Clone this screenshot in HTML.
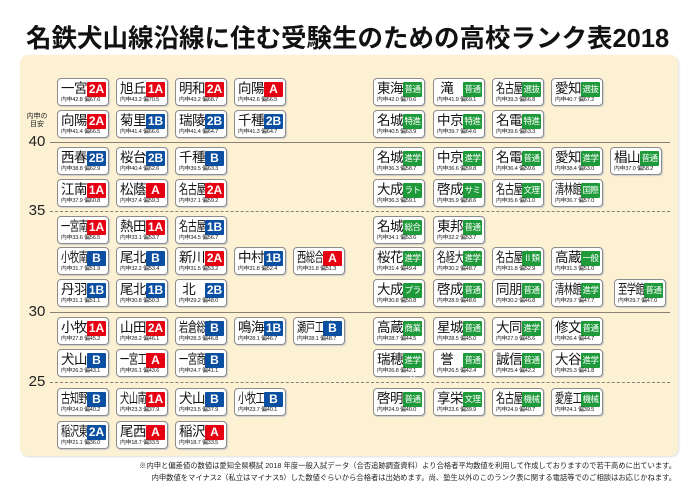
<!DOCTYPE html>
<html><head><meta charset="utf-8"><style>
*{margin:0;padding:0;box-sizing:border-box}
body{width:700px;height:494px;background:#fff;position:relative;overflow:hidden;font-family:"Liberation Sans","Noto Sans CJK JP",sans-serif}
.t{position:absolute;left:26px;top:18px;width:650px;font-size:25.5px;font-weight:bold;letter-spacing:0;white-space:nowrap;color:#111}
.p{position:absolute;left:20px;top:55px;width:658px;height:401px;background:#fdf1d4;border-radius:8px;box-shadow:1px 1px 2px #ddd}
.l{position:absolute;left:50px;width:620px;height:0;border-top:1px solid #8a8175}
.d{border-top:1px dashed #8a8175}
.y{position:absolute;left:24px;font-size:15px;color:#222;width:26px;text-align:center;line-height:15px}
.c{position:absolute;width:52px;height:28px;background:#fff;border:1px solid #8c8c8c;border-radius:4px;box-shadow:1px 1px 1px #ccc}
.n{position:absolute;left:3px;top:2px;font-size:13.5px;line-height:16px;color:#111;white-space:nowrap;letter-spacing:-0.5px}
.n3{transform:scaleX(0.68);transform-origin:0 0;letter-spacing:-0.5px}
.b{position:absolute;right:2px;top:3px;width:19px;height:15px;color:#fff;font-size:12px;font-weight:bold;text-align:center;line-height:15px;border-radius:1px}
.r{background:#e60012}.u{background:#0b4fa3}.g{background:#1f9a3b;font-size:8.5px;letter-spacing:-0.5px;font-weight:normal}
.s{position:absolute;left:3px;bottom:1px;font-size:5.8px;line-height:7px;color:#222;white-space:nowrap;letter-spacing:-0.2px}
.f{position:absolute;right:24px;font-size:7.3px;color:#222;white-space:nowrap}
</style></head><body>
<div class="t">名鉄犬山線沿線に住む受験生のための高校ランク表2018</div>
<div class="p"></div>
<div class="l" style="top:142px"></div>
<div class="l d" style="top:211px"></div>
<div class="l" style="top:312px"></div>
<div class="l d" style="top:382px"></div>
<div class="y" style="top:113px;font-size:7px;line-height:8px">内申の<br>目安</div>
<div class="y" style="top:134px">40</div>
<div class="y" style="top:203px">35</div>
<div class="y" style="top:304px">30</div>
<div class="y" style="top:374px">25</div>

<!-- left -->
<div class="c" style="left:57px;top:78px"><div class="n">一宮</div><div class="b r">2A</div><div class="s">内申42.8 偏67.6</div></div>
<div class="c" style="left:116px;top:78px"><div class="n">旭丘</div><div class="b r">1A</div><div class="s">内申43.2 偏70.5</div></div>
<div class="c" style="left:175px;top:78px"><div class="n">明和</div><div class="b r">2A</div><div class="s">内申43.2 偏68.7</div></div>
<div class="c" style="left:234px;top:78px"><div class="n">向陽</div><div class="b r">A</div><div class="s">内申42.6 偏66.5</div></div>
<div class="c" style="left:57px;top:110px"><div class="n">向陽</div><div class="b r">2A</div><div class="s">内申41.4 偏66.5</div></div>
<div class="c" style="left:116px;top:110px"><div class="n">菊里</div><div class="b u">1B</div><div class="s">内申41.4 偏66.6</div></div>
<div class="c" style="left:175px;top:110px"><div class="n">瑞陵</div><div class="b u">2B</div><div class="s">内申41.4 偏64.7</div></div>
<div class="c" style="left:234px;top:110px"><div class="n">千種</div><div class="b u">2B</div><div class="s">内申41.3 偏64.7</div></div>
<div class="c" style="left:57px;top:147px"><div class="n">西春</div><div class="b u">2B</div><div class="s">内申38.8 偏62.9</div></div>
<div class="c" style="left:116px;top:147px"><div class="n">桜台</div><div class="b u">2B</div><div class="s">内申40.4 偏62.6</div></div>
<div class="c" style="left:175px;top:147px"><div class="n">千種</div><div class="b u">B</div><div class="s">内申39.5 偏63.3</div></div>
<div class="c" style="left:57px;top:179px"><div class="n">江南</div><div class="b r">1A</div><div class="s">内申37.9 偏60.8</div></div>
<div class="c" style="left:116px;top:179px"><div class="n">松蔭</div><div class="b r">A</div><div class="s">内申37.4 偏59.3</div></div>
<div class="c" style="left:175px;top:179px"><div class="n n3">名古屋南</div><div class="b r">2A</div><div class="s">内申37.1 偏59.2</div></div>
<div class="c" style="left:57px;top:216px"><div class="n n3">一宮南</div><div class="b r">1A</div><div class="s">内申33.6 偏56.5</div></div>
<div class="c" style="left:116px;top:216px"><div class="n">熱田</div><div class="b r">1A</div><div class="s">内申33.1 偏53.7</div></div>
<div class="c" style="left:175px;top:216px"><div class="n n3">名古屋西</div><div class="b u">1B</div><div class="s">内申34.5 偏56.7</div></div>
<div class="c" style="left:57px;top:247px"><div class="n n3">小牧南</div><div class="b u">B</div><div class="s">内申31.7 偏51.9</div></div>
<div class="c" style="left:116px;top:247px"><div class="n">尾北</div><div class="b u">B</div><div class="s">内申32.2 偏53.4</div></div>
<div class="c" style="left:175px;top:247px"><div class="n">新川</div><div class="b r">2A</div><div class="s">内申31.5 偏53.2</div></div>
<div class="c" style="left:234px;top:247px"><div class="n">中村</div><div class="b u">1B</div><div class="s">内申31.8 偏52.4</div></div>
<div class="c" style="left:293px;top:247px"><div class="n n3">西総合</div><div class="b r">A</div><div class="s">内申31.8 偏51.3</div></div>
<div class="c" style="left:57px;top:279px"><div class="n">丹羽</div><div class="b u">1B</div><div class="s">内申31.1 偏51.1</div></div>
<div class="c" style="left:116px;top:279px"><div class="n">尾北</div><div class="b u">1B</div><div class="s">内申30.8 偏50.3</div></div>
<div class="c" style="left:175px;top:279px"><div class="n">&nbsp;北</div><div class="b u">2B</div><div class="s">内申29.2 偏48.0</div></div>
<div class="c" style="left:57px;top:317px"><div class="n">小牧</div><div class="b r">1A</div><div class="s">内申27.8 偏45.2</div></div>
<div class="c" style="left:116px;top:317px"><div class="n">山田</div><div class="b r">2A</div><div class="s">内申28.2 偏46.1</div></div>
<div class="c" style="left:175px;top:317px"><div class="n n3">岩倉総合</div><div class="b u">B</div><div class="s">内申28.3 偏46.8</div></div>
<div class="c" style="left:234px;top:317px"><div class="n">鳴海</div><div class="b u">1B</div><div class="s">内申28.1 偏46.7</div></div>
<div class="c" style="left:293px;top:317px"><div class="n n3">瀬戸工科</div><div class="b u">B</div><div class="s">内申28.1 偏48.7</div></div>
<div class="c" style="left:57px;top:349px"><div class="n">犬山</div><div class="b u">B</div><div class="s">内申26.3 偏43.1</div></div>
<div class="c" style="left:116px;top:349px"><div class="n n3">一宮工</div><div class="b r">A</div><div class="s">内申26.1 偏43.6</div></div>
<div class="c" style="left:175px;top:349px"><div class="n n3">一宮商</div><div class="b u">B</div><div class="s">内申24.7 偏41.1</div></div>
<div class="c" style="left:57px;top:388px"><div class="n n3">古知野</div><div class="b u">B</div><div class="s">内申24.0 偏40.2</div></div>
<div class="c" style="left:116px;top:388px"><div class="n n3">犬山南</div><div class="b r">1A</div><div class="s">内申23.3 偏37.9</div></div>
<div class="c" style="left:175px;top:388px"><div class="n">犬山</div><div class="b u">B</div><div class="s">内申23.5 偏37.9</div></div>
<div class="c" style="left:234px;top:388px"><div class="n n3">小牧工</div><div class="b u">B</div><div class="s">内申23.7 偏40.1</div></div>
<div class="c" style="left:57px;top:421px"><div class="n n3">稲沢東</div><div class="b u">2A</div><div class="s">内申21.1 偏36.0</div></div>
<div class="c" style="left:116px;top:421px"><div class="n">尾西</div><div class="b r">A</div><div class="s">内申18.7 偏33.5</div></div>
<div class="c" style="left:175px;top:421px"><div class="n">稲沢</div><div class="b r">A</div><div class="s">内申18.7 偏33.5</div></div>

<!-- right -->
<div class="c" style="left:373px;top:78px"><div class="n">東海</div><div class="b g">普通</div><div class="s">内申42.0 偏70.6</div></div>
<div class="c" style="left:433px;top:78px"><div class="n">&nbsp;滝</div><div class="b g">普通</div><div class="s">内申41.9 偏69.1</div></div>
<div class="c" style="left:492px;top:78px"><div class="n n3">名古屋</div><div class="b g">選抜</div><div class="s">内申39.3 偏66.8</div></div>
<div class="c" style="left:551px;top:78px"><div class="n">愛知</div><div class="b g">選抜</div><div class="s">内申40.7 偏67.2</div></div>
<div class="c" style="left:373px;top:110px"><div class="n">名城</div><div class="b g">特進</div><div class="s">内申40.5 偏63.9</div></div>
<div class="c" style="left:433px;top:110px"><div class="n">中京</div><div class="b g">特進</div><div class="s">内申39.7 偏64.6</div></div>
<div class="c" style="left:492px;top:110px"><div class="n">名電</div><div class="b g">特進</div><div class="s">内申39.6 偏63.3</div></div>
<div class="c" style="left:373px;top:147px"><div class="n">名城</div><div class="b g">進学</div><div class="s">内申36.3 偏58.7</div></div>
<div class="c" style="left:433px;top:147px"><div class="n">中京</div><div class="b g">進学</div><div class="s">内申36.6 偏59.8</div></div>
<div class="c" style="left:492px;top:147px"><div class="n">名電</div><div class="b g">普通</div><div class="s">内申36.4 偏59.6</div></div>
<div class="c" style="left:551px;top:147px"><div class="n">愛知</div><div class="b g">進学</div><div class="s">内申38.4 偏63.0</div></div>
<div class="c" style="left:610px;top:147px"><div class="n">椙山</div><div class="b g">普通</div><div class="s">内申37.0 偏58.2</div></div>
<div class="c" style="left:373px;top:179px"><div class="n">大成</div><div class="b g">ラト</div><div class="s">内申36.3 偏59.1</div></div>
<div class="c" style="left:433px;top:179px"><div class="n">啓成</div><div class="b g">サミ</div><div class="s">内申35.9 偏58.6</div></div>
<div class="c" style="left:492px;top:179px"><div class="n n3">名古屋</div><div class="b g">文理</div><div class="s">内申35.6 偏61.0</div></div>
<div class="c" style="left:551px;top:179px"><div class="n n3">清林館</div><div class="b g">国際</div><div class="s">内申36.7 偏57.0</div></div>
<div class="c" style="left:373px;top:216px"><div class="n">名城</div><div class="b g">総合</div><div class="s">内申34.1 偏53.6</div></div>
<div class="c" style="left:433px;top:216px"><div class="n">東邦</div><div class="b g">普通</div><div class="s">内申32.2 偏53.7</div></div>
<div class="c" style="left:373px;top:247px"><div class="n">桜花</div><div class="b g">進学</div><div class="s">内申31.4 偏49.4</div></div>
<div class="c" style="left:433px;top:247px"><div class="n n3">名経大市邨</div><div class="b g">進学</div><div class="s">内申30.2 偏48.7</div></div>
<div class="c" style="left:492px;top:247px"><div class="n n3">名古屋大谷</div><div class="b g">Ⅱ類</div><div class="s">内申31.8 偏52.9</div></div>
<div class="c" style="left:551px;top:247px"><div class="n">高蔵</div><div class="b g">一般</div><div class="s">内申31.3 偏51.0</div></div>
<div class="c" style="left:373px;top:279px"><div class="n">大成</div><div class="b g">プラ</div><div class="s">内申30.8 偏50.8</div></div>
<div class="c" style="left:433px;top:279px"><div class="n">啓成</div><div class="b g">普通</div><div class="s">内申28.9 偏48.6</div></div>
<div class="c" style="left:492px;top:279px"><div class="n">同朋</div><div class="b g">普通</div><div class="s">内申30.2 偏46.8</div></div>
<div class="c" style="left:551px;top:279px"><div class="n n3">清林館</div><div class="b g">進学</div><div class="s">内申29.7 偏47.7</div></div>
<div class="c" style="left:614px;top:279px"><div class="n n3">至学館</div><div class="b g">普通</div><div class="s">内申29.7 偏47.0</div></div>
<div class="c" style="left:373px;top:317px"><div class="n">高蔵</div><div class="b g">商業</div><div class="s">内申28.7 偏44.5</div></div>
<div class="c" style="left:433px;top:317px"><div class="n">星城</div><div class="b g">普通</div><div class="s">内申28.5 偏45.0</div></div>
<div class="c" style="left:492px;top:317px"><div class="n">大同</div><div class="b g">進学</div><div class="s">内申27.9 偏45.6</div></div>
<div class="c" style="left:551px;top:317px"><div class="n">修文</div><div class="b g">普通</div><div class="s">内申26.4 偏44.7</div></div>
<div class="c" style="left:373px;top:349px"><div class="n">瑞穂</div><div class="b g">進学B</div><div class="s">内申26.8 偏42.1</div></div>
<div class="c" style="left:433px;top:349px"><div class="n">&nbsp;誉</div><div class="b g">普通</div><div class="s">内申26.5 偏42.4</div></div>
<div class="c" style="left:492px;top:349px"><div class="n">誠信</div><div class="b g">普通</div><div class="s">内申25.4 偏42.2</div></div>
<div class="c" style="left:551px;top:349px"><div class="n">大谷</div><div class="b g">進学</div><div class="s">内申25.3 偏41.8</div></div>
<div class="c" style="left:373px;top:388px"><div class="n">啓明</div><div class="b g">普通</div><div class="s">内申24.9 偏40.0</div></div>
<div class="c" style="left:433px;top:388px"><div class="n">享栄</div><div class="b g">文理</div><div class="s">内申23.6 偏39.9</div></div>
<div class="c" style="left:492px;top:388px"><div class="n n3">名古屋工</div><div class="b g">機械</div><div class="s">内申24.9 偏40.7</div></div>
<div class="c" style="left:551px;top:388px"><div class="n n3">愛産工</div><div class="b g">機械</div><div class="s">内申24.1 偏39.5</div></div>

<div class="f" style="top:461px">※内申と偏差値の数値は愛知全県模試 2018 年度一般入試データ（合否追跡調査資料）より合格者平均数値を利用して作成しておりますので若干高めに出ています。</div>
<div class="f" style="top:473px">内申数値をマイナス2（私立はマイナス5）した数値ぐらいから合格者は出始めます。尚、塾生以外のこのランク表に関する電話等でのご相談はお応じかねます。</div>
</body></html>
